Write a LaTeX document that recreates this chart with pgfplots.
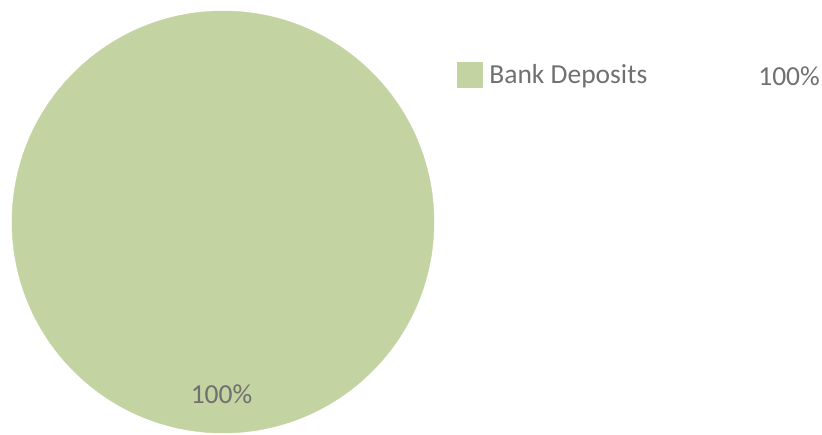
\documentclass[border=0pt]{standalone}
\usepackage{fontspec}
\setmainfont{Carlito}
\usepackage{pgfplots}
\pgfplotsset{compat=1.18}
\definecolor{pie}{HTML}{C3D3A1}
\definecolor{txt}{HTML}{707070}
\begin{document}
\begin{tikzpicture}[lab/.style={font=\fontsize{27.5}{32}\selectfont, text=txt, inner sep=0pt}]
\begin{axis}[
    scale only axis,
    width=822pt, height=434pt,
    xmin=0, xmax=822, ymin=0, ymax=434,
    hide axis,
    clip=true,
    legend style={at={(axis cs:457,359.5)}, anchor=west, draw=none, fill=none,
        inner sep=0pt, outer sep=0pt,
        font=\fontsize{27.5}{32}\selectfont\color{txt},
        nodes={inner sep=0pt, outer sep=0pt},
        /tikz/every odd column/.append style={column sep=7pt}},
    legend cell align=left,
    legend image code/.code={\fill[pie] (0pt,-12.5pt) rectangle (25pt,12.5pt);},
]
% keep the page as large as the axis box
\path (rel axis cs:0,0) rectangle (rel axis cs:1,1);
% one slice: Bank Deposits 100%
\addplot[only marks, mark=*, mark size=211pt, color=pie, mark options={draw=pie, fill=pie}]
    coordinates {(223,212)};
\addlegendentry{Bank Deposits}
\coordinate (legval) at (axis cs:820,348);
\coordinate (pieval) at (axis cs:221.5,31);
\end{axis}
\node[lab, anchor=base east] at (legval) {100\%};
\node[lab, anchor=base] at (pieval) {100\%};
\end{tikzpicture}
\end{document}
